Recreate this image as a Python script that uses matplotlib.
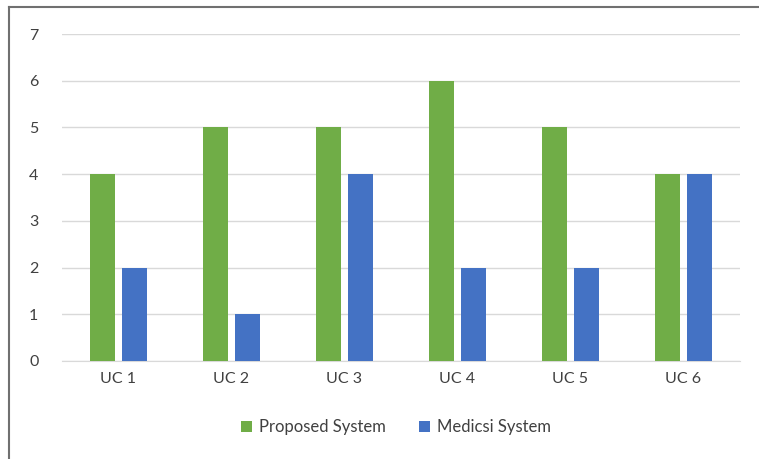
import numpy as np
from matplotlib import pyplot as plt
from matplotlib.lines import Line2D

# use cases and scores for both systems
categories = ['UC 1', 'UC 2', 'UC 3', 'UC 4', 'UC 5', 'UC 6']
proposed = [4, 5, 5, 6, 5, 4]
medicsi = [2, 1, 4, 2, 2, 4]
yticks = [0, 1, 2, 3, 4, 5, 6, 7]

green = '#70AD47'
blue = '#4472C4'

plt.rcParams['font.family'] = ['Lato', 'DejaVu Sans']

fig = plt.figure(dpi=100, figsize=(7.59, 4.59))
ax = fig.add_axes([62 / 759, 1 - 361 / 459, 678 / 759, 327 / 459])

x = np.arange(len(categories))
w = 0.22
ax.bar(x - 0.142, proposed, w, color=green, label='Proposed System', zorder=3)
ax.bar(x + 0.142, medicsi, w, color=blue, label='Medicsi System', zorder=3)

ax.set_xlim(-0.5, len(categories) - 0.5)
ax.set_ylim(0, 7)
ax.set_xticks(x)
ax.set_xticklabels(categories)
ax.set_yticks(yticks)
ax.yaxis.grid(True, color='#D9D9D9', linewidth=1, zorder=0)
ax.tick_params(axis='both', length=0, labelsize=11.5, colors='#404040')
ax.tick_params(axis='y', pad=17)
ax.tick_params(axis='x', pad=8)
for side in ['top', 'right', 'left']:
	ax.spines[side].set_visible(False)
ax.spines['bottom'].set_color('#D9D9D9')

fig.legend(loc='center', bbox_to_anchor=(396 / 759, 1 - 427 / 459), ncol=2,
	frameon=False, fontsize=12, handlelength=0.65, handleheight=0.65,
	handletextpad=0.4, columnspacing=2.0, labelcolor='#404040')

# outer frame, left and top edges
fig.add_artist(Line2D([8.5 / 759, 8.5 / 759], [0, 1 - 6.5 / 459], color='#707070', linewidth=1.5))
fig.add_artist(Line2D([8.5 / 759, 1], [1 - 6.5 / 459, 1 - 6.5 / 459], color='#707070', linewidth=1.5))

plt.savefig('out.png', dpi=100)
